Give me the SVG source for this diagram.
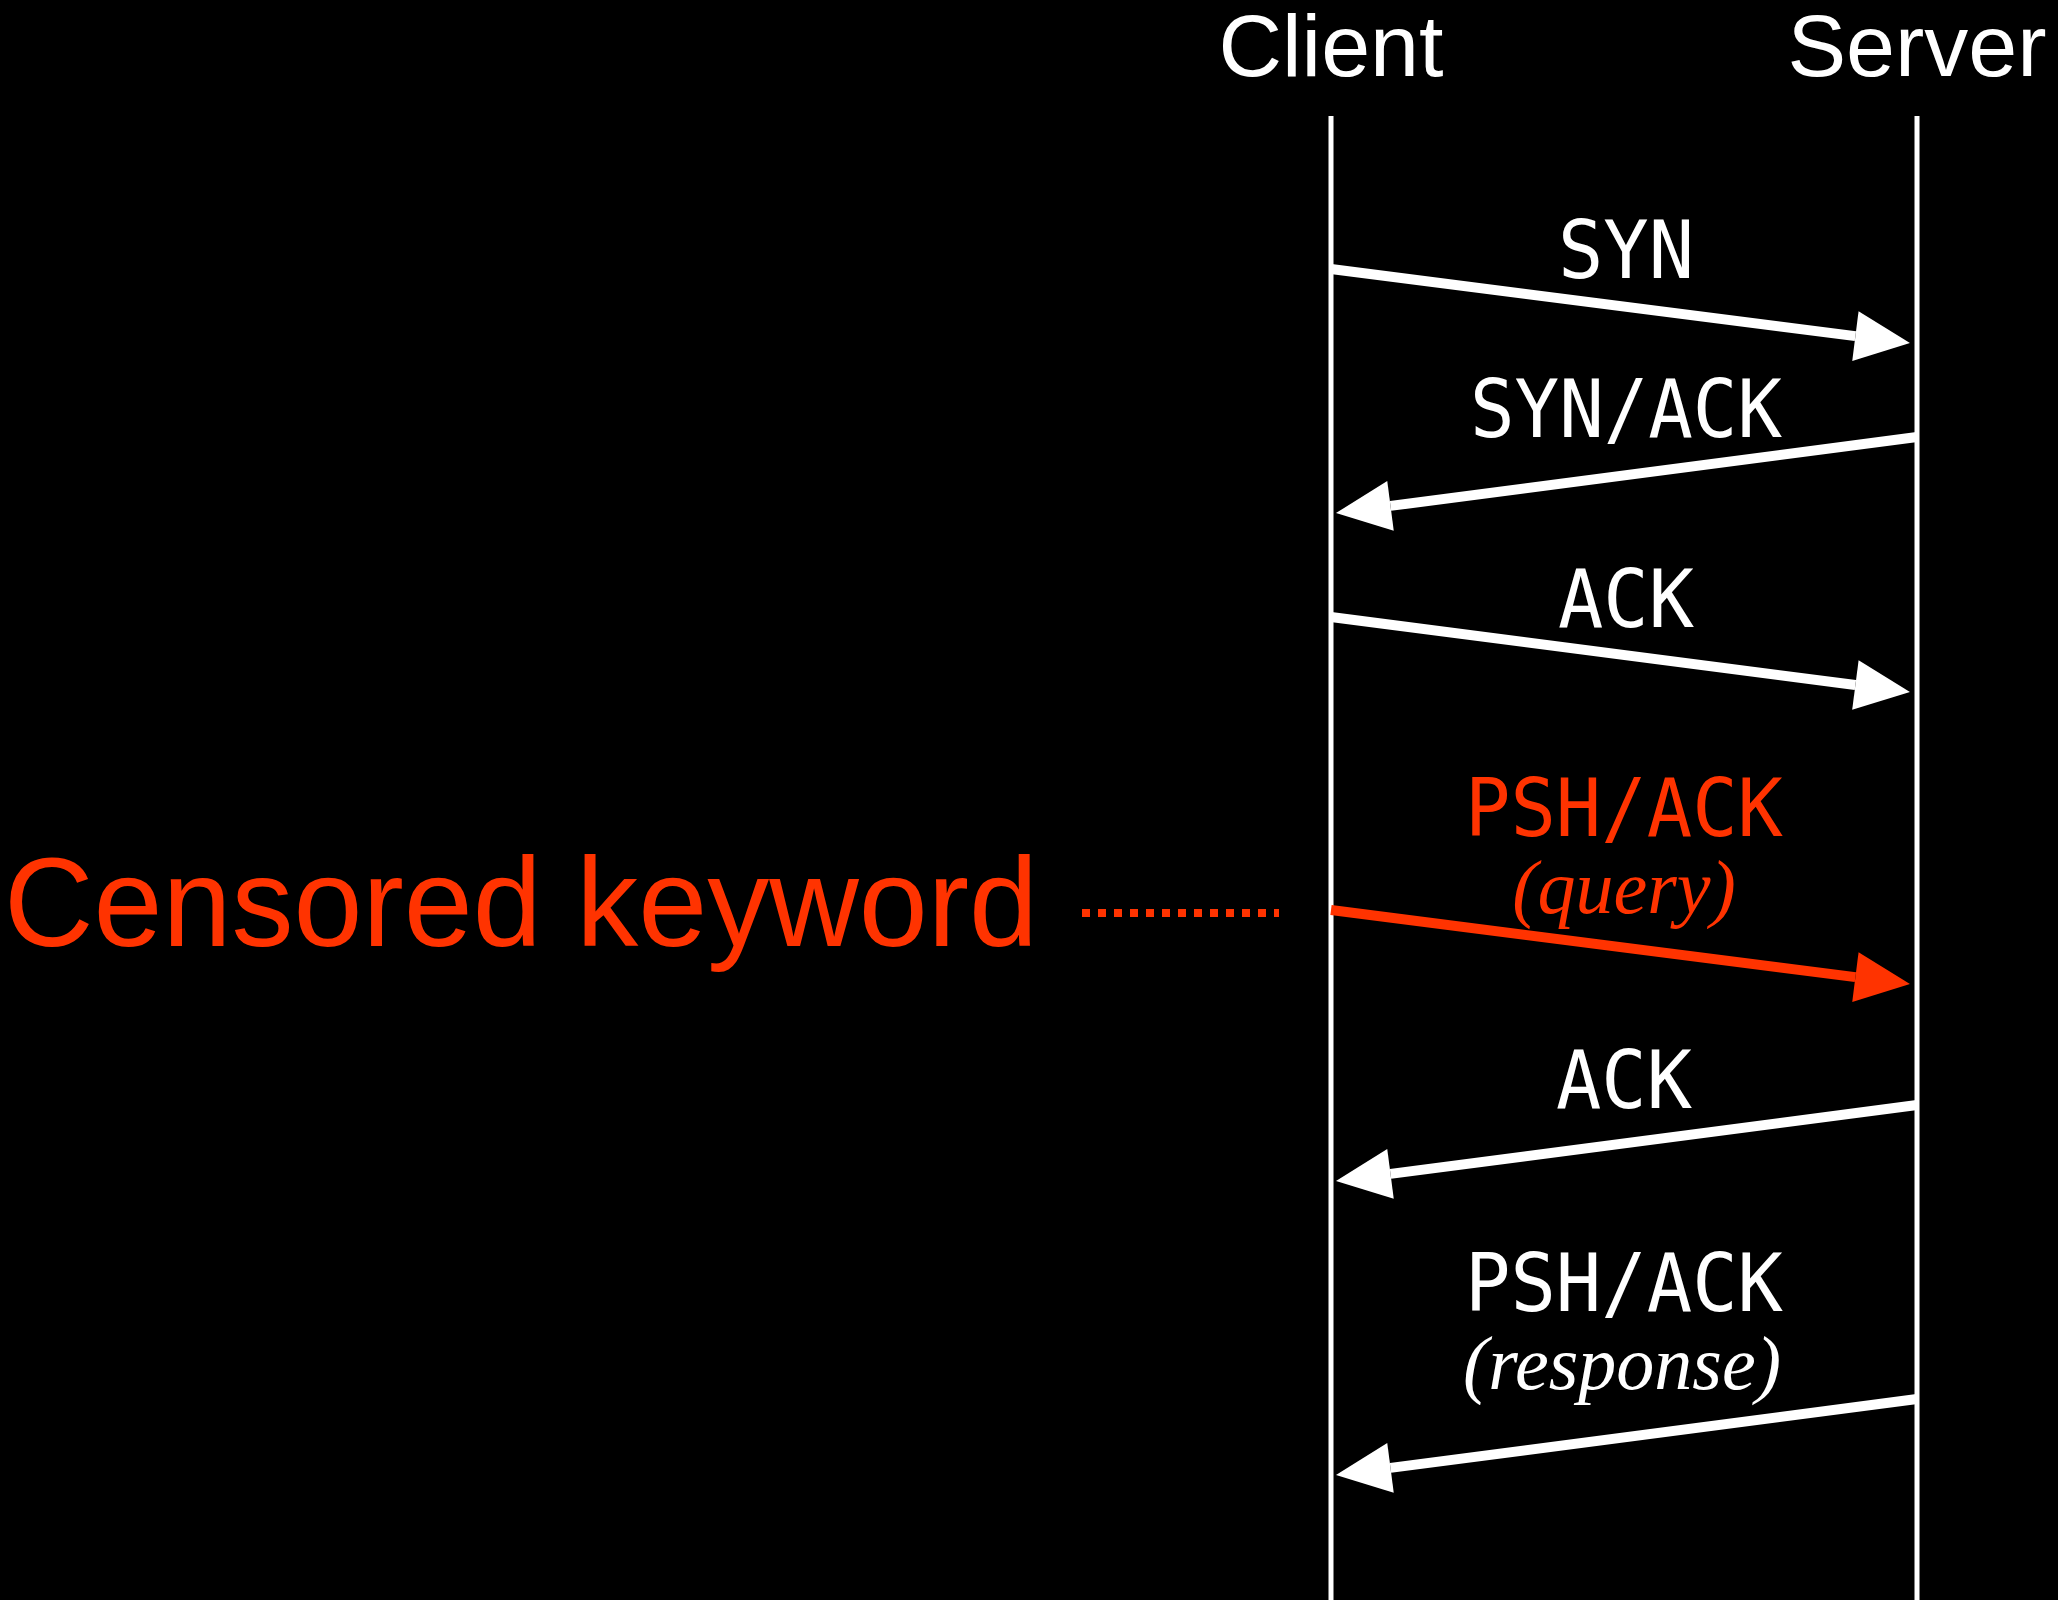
<svg xmlns="http://www.w3.org/2000/svg" width="2058" height="1600" viewBox="0 0 2058 1600">
<style>
.title{font-family:"Liberation Sans",Arial,sans-serif;font-size:88px;fill:#fff;text-anchor:middle}
.lbl{font-family:"DejaVu Sans Mono","Liberation Mono",monospace;font-size:80px;text-anchor:middle}
.sub{font-family:"Liberation Serif","Times New Roman",serif;font-style:italic;font-size:76px;text-anchor:middle}
.w{fill:#fff}
.r{fill:#ff3300}
.life{stroke:#fff;stroke-width:5;fill:none}
.msg{stroke:#fff;stroke-width:10;fill:none}
.msgr{stroke:#ff3300;stroke-width:10;fill:none}
</style>
<defs>
<marker id="hw" markerUnits="userSpaceOnUse" markerWidth="60" markerHeight="50" refX="0" refY="0" orient="auto" overflow="visible">
<path d="M0,-25 L55,0 L0,25 z" fill="#fff"/>
</marker>
<marker id="hr" markerUnits="userSpaceOnUse" markerWidth="60" markerHeight="50" refX="0" refY="0" orient="auto" overflow="visible">
<path d="M0,-25 L55,0 L0,25 z" fill="#ff3300"/>
</marker>
</defs>
<rect x="0" y="0" width="2058" height="1600" fill="#000"/>
<g id="client">
<text class="title" x="1331" y="76">Client</text>
<line class="life" x1="1331" y1="116" x2="1331" y2="1600"/>
</g>
<g id="server">
<text class="title" x="1917" y="76">Server</text>
<line class="life" x1="1917" y1="116" x2="1917" y2="1600"/>
</g>
<g id="censored">
<text x="4" y="946" font-family="'Liberation Sans',Arial,sans-serif" font-size="126" fill="#ff3300" textLength="1034" lengthAdjust="spacingAndGlyphs">Censored keyword</text>
</g>
<g id="connectors">
<line class="msg" x1="1331" y1="269" x2="1855.4" y2="336.1" marker-end="url(#hw)"/>
<line class="msg" x1="1917" y1="437" x2="1390.5" y2="505.9" marker-end="url(#hw)"/>
<line class="msg" x1="1331" y1="617" x2="1855.4" y2="685" marker-end="url(#hw)"/>
<line class="msgr" x1="1331" y1="910" x2="1855.4" y2="977.1" marker-end="url(#hr)"/>
<line class="msg" x1="1917" y1="1105" x2="1390.5" y2="1173.9" marker-end="url(#hw)"/>
<line class="msg" x1="1917" y1="1399" x2="1390.5" y2="1467.9" marker-end="url(#hw)"/>
<line x1="1082" y1="913" x2="1279" y2="913" stroke="#ff3300" stroke-width="8" stroke-dasharray="8 8"/>
</g>
<g id="labels">
<text class="lbl w" x="1626" y="278" textLength="136" lengthAdjust="spacingAndGlyphs">SYN</text>
<text class="lbl w" x="1626" y="437" textLength="312" lengthAdjust="spacingAndGlyphs">SYN/ACK</text>
<text class="lbl w" x="1626" y="627" textLength="136" lengthAdjust="spacingAndGlyphs">ACK</text>
<text class="lbl r" x="1624" y="836" textLength="318" lengthAdjust="spacingAndGlyphs">PSH/ACK</text>
<text class="sub r" x="1624" y="913">(query)</text>
<text class="lbl w" x="1624" y="1108" textLength="136" lengthAdjust="spacingAndGlyphs">ACK</text>
<text class="lbl w" x="1624" y="1311" textLength="318" lengthAdjust="spacingAndGlyphs">PSH/ACK</text>
<text class="sub w" x="1622" y="1389">(response)</text>
</g>
</svg>
